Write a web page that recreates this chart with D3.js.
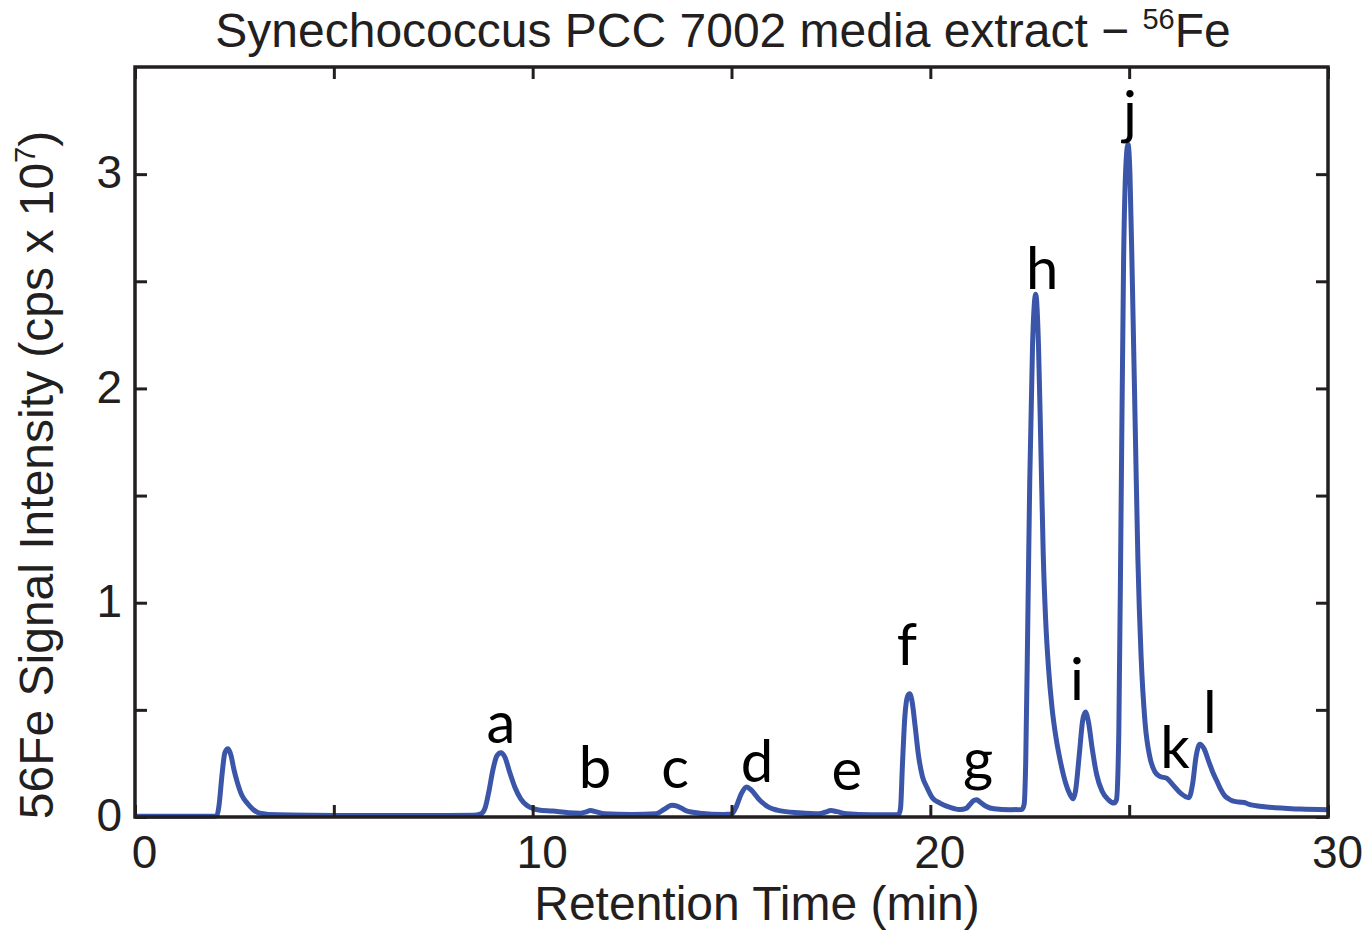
<!DOCTYPE html>
<html>
<head>
<meta charset="utf-8">
<script src="https://cdn.jsdelivr.net/npm/d3@7"></script>
<style>
  html, body { margin: 0; padding: 0; background: #ffffff; }
  svg { display: block; }
</style>
</head>
<body>
<svg id="chart" width="1369" height="933"></svg>
<script>
// ---- data ----
const retentionTime = [
  0, 1.0, 2.0, 2.06, 2.11, 2.19, 2.26, 2.34, 2.41, 2.49, 2.56, 2.69, 2.82, 2.97, 3.14, 3.6, 4.5, 6.0, 7.5, 8.5,
  8.7, 8.8, 8.9, 9.0, 9.1, 9.2, 9.3, 9.42, 9.55, 9.7, 9.85, 10.0, 10.15, 10.5, 10.9, 11.2,
  11.35, 11.45, 11.6, 11.8, 12.5, 13.1, 13.3, 13.5, 13.65, 13.85, 14.2, 14.8, 15.0,
  15.1, 15.25, 15.38, 15.5, 15.7, 15.9, 16.2, 16.7, 17.2, 17.35, 17.5, 17.65, 17.9, 18.5, 19.2,
  19.25, 19.3, 19.36, 19.43, 19.48, 19.54, 19.62, 19.7, 19.8, 19.91, 20.05, 20.24, 20.5, 20.75,
  20.9, 21.0, 21.1, 21.17, 21.25, 21.4, 21.6, 22.0, 22.3,
  22.36, 22.4, 22.45, 22.5, 22.57, 22.65, 22.72, 22.78, 22.84, 22.9, 22.97, 23.06, 23.16, 23.27, 23.4, 23.5, 23.59,
  23.65, 23.75, 23.83, 23.9, 23.98, 24.07, 24.18, 24.32, 24.48, 24.62,
  24.68, 24.74, 24.8, 24.86, 24.92, 24.97, 25.02, 25.08, 25.16, 25.22, 25.3, 25.4, 25.52, 25.65,
  25.77, 25.95, 26.1, 26.3, 26.5, 26.6, 26.68, 26.78, 26.88, 27.0, 27.1, 27.2, 27.3, 27.4, 27.5, 27.6, 27.75, 27.9,
  28.0, 28.45, 29.3, 30.0
];
const signalIntensity = [
  0.003, 0.003, 0.004, 0.006, 0.05, 0.2, 0.3, 0.318, 0.29, 0.22, 0.17, 0.1, 0.065, 0.035, 0.018, 0.01, 0.008, 0.007, 0.007, 0.008,
  0.015, 0.04, 0.12, 0.22, 0.285, 0.3, 0.28, 0.21, 0.14, 0.085, 0.055, 0.04, 0.033, 0.028, 0.02, 0.018,
  0.024, 0.03, 0.024, 0.015, 0.012, 0.015, 0.035, 0.055, 0.05, 0.03, 0.018, 0.012, 0.014,
  0.04, 0.11, 0.14, 0.125, 0.08, 0.05, 0.03, 0.02, 0.015, 0.022, 0.03, 0.025, 0.015, 0.01, 0.01,
  0.04, 0.25, 0.47, 0.565, 0.575, 0.54, 0.42, 0.29, 0.19, 0.14, 0.09, 0.065, 0.045, 0.035,
  0.04, 0.06, 0.078, 0.08, 0.07, 0.05, 0.038, 0.034, 0.035,
  0.06, 0.27, 0.9, 1.57, 2.2, 2.44, 2.2, 1.72, 1.22, 0.92, 0.7, 0.51, 0.37, 0.26, 0.16, 0.11, 0.085,
  0.12, 0.3, 0.45, 0.49, 0.44, 0.32, 0.2, 0.12, 0.08, 0.065,
  0.08, 0.4, 1.5, 2.6, 3.05, 3.14, 3.0, 2.5, 1.75, 1.2, 0.75, 0.44, 0.28, 0.21,
  0.19, 0.18, 0.15, 0.11, 0.09, 0.16, 0.28, 0.34, 0.32, 0.26, 0.21, 0.17, 0.13, 0.1, 0.085, 0.075, 0.07, 0.068,
  0.06, 0.047, 0.037, 0.034
];

const peakLabels     = ["a", "b", "c", "d", "e", "f", "g", "h", "i", "j", "k", "l"];
const peakLabelTime  = [9.2, 11.57, 13.58, 15.64, 17.9, 19.41, 21.2, 22.81, 23.69, 25.02, 26.15, 27.03];
const peakLabelLevel = [0.345, 0.135, 0.135, 0.163, 0.126, 0.708, 0.172, 2.464, 0.545, 3.19, 0.228, 0.391];

const xTicks = [0, 5, 10, 15, 20, 25, 30];
const xTickLabels = ["0", "", "10", "", "20", "", "30"];
const yTicks = [0, 0.5, 1, 1.5, 2, 2.5, 3];
const yTickLabels = ["0", "", "1", "", "2", "", "3"];

const titleMain = "Synechococcus PCC 7002 media extract \u2212 ";
const titleSup = "56";
const titleEnd = "Fe";
const xLabel = "Retention Time (min)";
const yLabelMain = "56Fe Signal Intensity (cps x 10";
const yLabelSup = "7";
const yLabelEnd = ")";

// ---- layout ----
const plotLeft = 135, plotRight = 1328, plotTop = 67, plotBottom = 817;
const svg = d3.select("#chart");
const x = d3.scaleLinear().domain([0, 30]).range([plotLeft, plotRight]);
const y = d3.scaleLinear().domain([0, 3.5]).range([plotBottom, plotTop]);

const axisColor = "#231f20";
const lineColor = "#3b55a8";
const tickFont = "'Liberation Sans', Arial, sans-serif";

// data line
const data = retentionTime.map((t, i) => ({ t, v: signalIntensity[i] }));
const line = d3.line().x(d => x(d.t)).y(d => y(d.v)).curve(d3.curveMonotoneX);
svg.append("path")
  .datum(data)
  .attr("d", line)
  .attr("fill", "none")
  .attr("stroke", lineColor)
  .attr("stroke-width", 5)
  .attr("stroke-linejoin", "round");

// axes
const tickLen = 12;
function styleAxis(g) {
  g.select(".domain").remove();
  g.selectAll(".tick line").attr("stroke", axisColor).attr("stroke-width", 3);
  g.selectAll(".tick text").attr("fill", axisColor)
    .style("font-family", tickFont).style("font-size", "46px");
}
const xb = svg.append("g").attr("transform", `translate(0,${plotBottom})`)
  .call(d3.axisBottom(x).tickValues(xTicks).tickSizeInner(-tickLen).tickSizeOuter(0)
    .tickPadding(18).tickFormat((d, i) => xTickLabels[i]));
styleAxis(xb);
xb.selectAll(".tick text").attr("dx", 9).attr("dy", "0.71em").attr("y", 18);

const xt = svg.append("g").attr("transform", `translate(0,${plotTop})`)
  .call(d3.axisTop(x).tickValues(xTicks).tickSizeInner(-tickLen).tickSizeOuter(0).tickFormat(""));
styleAxis(xt);

const yl = svg.append("g").attr("transform", `translate(${plotLeft},0)`)
  .call(d3.axisLeft(y).tickValues(yTicks).tickSizeInner(-tickLen).tickSizeOuter(0)
    .tickPadding(13).tickFormat((d, i) => yTickLabels[i]));
styleAxis(yl);
yl.selectAll(".tick text").attr("x", -13).attr("dy", "0.3em");

const yr = svg.append("g").attr("transform", `translate(${plotRight},0)`)
  .call(d3.axisRight(y).tickValues(yTicks).tickSizeInner(-tickLen).tickSizeOuter(0).tickFormat(""));
styleAxis(yr);

// frame
svg.append("rect")
  .attr("x", plotLeft).attr("y", plotTop)
  .attr("width", plotRight - plotLeft).attr("height", plotBottom - plotTop)
  .attr("fill", "none").attr("stroke", axisColor).attr("stroke-width", 3.5);

// peak labels
svg.append("g").selectAll("text")
  .data(peakLabels)
  .join("text")
  .attr("x", (d, i) => x(peakLabelTime[i]))
  .attr("y", (d, i) => y(peakLabelLevel[i]))
  .attr("text-anchor", "middle")
  .style("font-family", "Lato, 'Open Sans', sans-serif")
  .style("font-size", "58px")
  .attr("fill", "#000")
  .text(d => d);

// title
const title = svg.append("text")
  .attr("x", 723).attr("y", 47)
  .attr("text-anchor", "middle")
  .style("font-family", tickFont).style("font-size", "48px")
  .attr("fill", axisColor);
title.append("tspan").text(titleMain);
title.append("tspan").attr("dy", -18).style("font-size", "29px").text(titleSup);
title.append("tspan").attr("dy", 18).text(titleEnd);

// x label
svg.append("text")
  .attr("x", 757).attr("y", 920)
  .attr("text-anchor", "middle")
  .style("font-family", tickFont).style("font-size", "48px")
  .attr("fill", axisColor)
  .text(xLabel);

// y label
const ylab = svg.append("text")
  .attr("transform", "translate(53,475) rotate(-90)")
  .attr("text-anchor", "middle")
  .style("font-family", tickFont).style("font-size", "48px")
  .attr("fill", axisColor);
ylab.append("tspan").text(yLabelMain);
ylab.append("tspan").attr("dy", -18).style("font-size", "29px").text(yLabelSup);
ylab.append("tspan").attr("dy", 18).text(yLabelEnd);
</script>
</body>
</html>
